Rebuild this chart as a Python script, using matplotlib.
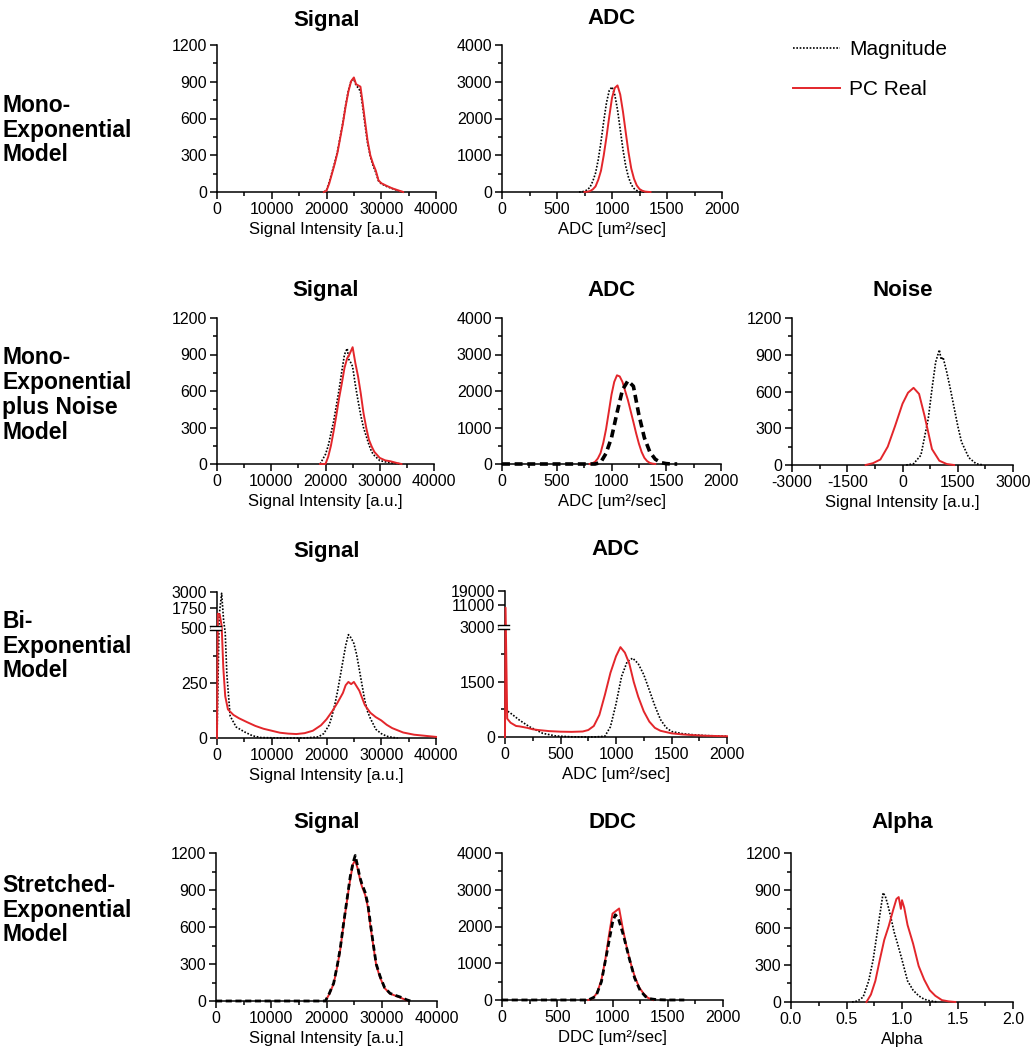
import numpy as np
import matplotlib
matplotlib.use('Agg')
import matplotlib.pyplot as plt
from matplotlib.ticker import MultipleLocator, FixedLocator, FormatStrFormatter
from matplotlib.lines import Line2D
from matplotlib.transforms import offset_copy

plt.rcParams['font.family'] = ['Liberation Sans', 'DejaVu Sans']
plt.rcParams['axes.unicode_minus'] = False

RED = '#e3262b'
W, H = 1031, 1050

# ---------------- Mono-exponential model ----------------
m1_sig_x = [19500, 20000, 20500, 21000, 21500, 22000, 22500, 23000, 23500, 24000, 24500, 25000, 25400,
            25800, 26200, 26600, 27000, 27500, 28000, 28500, 29000, 29500, 30000, 31000, 32000, 33000, 34000]
m1_sig_mag = [0, 15, 80, 160, 240, 330, 450, 570, 710, 830, 910, 920, 870, 850, 820, 700, 560, 400, 290,
              215, 160, 90, 68, 45, 28, 12, 0]
m1_sig_pc = [0, 10, 70, 150, 230, 320, 440, 560, 700, 820, 905, 935, 880, 870, 860, 730, 590, 420, 300,
             230, 175, 95, 72, 50, 30, 15, 0]

m1_adc_x_mag = [700, 725, 750, 775, 800, 825, 850, 875, 900, 925, 950, 975, 1000, 1025, 1050, 1075, 1100,
                1125, 1150, 1175, 1200, 1225, 1250, 1275, 1300]
m1_adc_mag = [0, 5, 20, 60, 130, 290, 510, 880, 1370, 1930, 2430, 2760, 2860, 2650, 2240, 1700, 1150, 700,
              400, 200, 95, 40, 15, 5, 0]
m1_adc_x_pc = [750, 775, 800, 825, 850, 875, 900, 925, 950, 975, 1000, 1025, 1050, 1075, 1100, 1125, 1150,
               1175, 1200, 1225, 1250, 1275, 1300, 1325, 1350]
m1_adc_pc = [0, 8, 25, 70, 150, 330, 580, 1000, 1500, 2050, 2560, 2830, 2900, 2650, 2180, 1620, 1080, 640,
             360, 180, 80, 35, 12, 4, 0]

# ---------------- Mono-exponential plus noise model ----------------
m2_sig_x = [19000, 20000, 20500, 21000, 21500, 22000, 22500, 23000, 23500, 24000, 24300, 24700, 25000,
            25500, 26000, 26500, 27000, 27500, 28000, 28500, 29000, 30000, 31000, 32000, 33000, 34000]
m2_sig_mag = [0, 80, 150, 250, 350, 480, 610, 760, 900, 950, 860, 830, 800, 650, 520, 400, 300, 230,
              160, 100, 70, 28, 18, 10, 5, 0]
m2_sig_pc = [0, 0, 60, 150, 270, 400, 540, 660, 790, 870, 890, 930, 960, 830, 720, 580, 420, 300, 200,
             145, 100, 50, 30, 22, 10, 0]

m2_adc_x_mag = [0, 200, 400, 600, 800, 850, 900, 950, 1000, 1050, 1100, 1150, 1200, 1250, 1300, 1350,
                1400, 1450, 1500, 1550, 1600]
m2_adc_mag = [0, 0, 0, 0, 0, 0, 40, 290, 720, 1400, 2030, 2280, 2130, 1350, 720, 330, 130, 40, 10, 0, 0]
m2_adc_x_pc = [800, 825, 850, 875, 900, 925, 950, 975, 1000, 1025, 1050, 1075, 1100, 1125, 1150, 1175,
               1200, 1225, 1250, 1275, 1300, 1325, 1350, 1375, 1400]
m2_adc_pc = [0, 20, 60, 150, 300, 580, 950, 1420, 1900, 2250, 2430, 2400, 2250, 2000, 1750, 1450, 1150,
             840, 560, 330, 170, 80, 30, 10, 0]

m2_noise_x_mag = [100, 300, 500, 700, 800, 900, 1000, 1050, 1100, 1200, 1300, 1400, 1500, 1600, 1800,
                  2000, 2200]
m2_noise_mag = [0, 10, 80, 380, 620, 840, 940, 860, 880, 760, 620, 470, 320, 190, 60, 10, 0]
m2_noise_x_pc = [-1000, -800, -600, -400, -200, 0, 150, 300, 450, 600, 800, 1000, 1200, 1400]
m2_noise_pc = [0, 15, 45, 150, 320, 500, 590, 630, 580, 400, 130, 35, 8, 0]

# ---------------- Bi-exponential model ----------------
b_sig_x_mag = [0, 400, 850, 1200, 1500, 1800, 2400, 3500, 5000, 6500, 8000, 12000, 16000, 18500, 19500,
               20500, 21000, 21500, 22000, 22500, 23000, 23500, 24000, 24500, 25000, 25500, 26000, 26500,
               27000, 27500, 28000, 29000, 30000, 31000, 32000, 33000]
b_sig_mag = [0, 1300, 2900, 1000, 480, 290, 100, 50, 28, 10, 2, 0, 0, 5, 20, 60, 100, 150, 210, 280, 350,
             420, 470, 455, 430, 380, 310, 240, 170, 120, 90, 40, 20, 8, 3, 0]
b_sig_x_pc = [0, 150, 500, 850, 1150, 1500, 2000, 3000, 4000, 5500, 7000, 8500, 10000, 11500, 13000,
              14500, 16000, 17500, 19000, 20000, 21000, 22000, 23000, 23500, 24000, 24500, 25000, 25500,
              26000, 27000, 28000, 29000, 30000, 31000, 32000, 33000, 34000, 36000, 38000, 40000]
b_sig_pc = [0, 1400, 1350, 640, 320, 190, 130, 105, 90, 72, 55, 42, 33, 24, 20, 18, 22, 33, 58, 85, 120,
            160, 205, 240, 255, 245, 255, 235, 215, 150, 115, 95, 80, 60, 45, 35, 25, 15, 10, 5]

b_adc_x_mag = [0, 50, 130, 220, 340, 460, 600, 800, 900, 950, 1000, 1050, 1100, 1150, 1200, 1250, 1300,
               1350, 1400, 1450, 1500, 1600, 1700, 1800, 2000]
b_adc_mag = [750, 650, 460, 280, 100, 27, 5, 0, 20, 280, 900, 1650, 2050, 2150, 2000, 1700, 1280, 850,
             480, 260, 150, 90, 60, 40, 20]
b_adc_x_pc = [0, 5, 20, 50, 100, 130, 200, 250, 300, 400, 500, 600, 700, 750, 800, 850, 900, 950, 1000,
              1040, 1080, 1120, 1160, 1200, 1250, 1300, 1350, 1400, 1500, 1600, 1700, 1800, 2000]
b_adc_pc = [0, 10000, 500, 390, 300, 290, 250, 210, 190, 160, 145, 140, 150, 190, 300, 600, 1150, 1750,
            2200, 2450, 2300, 2000, 1500, 1100, 700, 420, 250, 170, 100, 70, 50, 35, 20]

# ---------------- Stretched-exponential model ----------------
s_sig_x_mag = [0, 5000, 10000, 15000, 19800, 20500, 21300, 22000, 22500, 23000, 23700, 24300, 24800,
               25200, 25600, 26000, 26400, 27000, 27500, 28000, 28500, 29000, 29700, 30500, 31500, 32500,
               33500, 34500, 35200]
s_sig_mag = [0, 0, 0, 0, 0, 60, 145, 300, 430, 600, 820, 1010, 1120, 1180, 1100, 1010, 950, 880, 780,
             610, 450, 300, 200, 110, 62, 45, 30, 10, 0]
s_sig_x_pc = [19800, 20500, 21300, 22000, 22500, 23000, 23700, 24300, 24800, 25200, 25600, 26000, 26400,
              27000, 27500, 28000, 28500, 29000, 29700, 30500, 31500, 32500, 33500, 34500]
s_sig_pc = [0, 55, 140, 290, 420, 590, 810, 990, 1110, 1140, 1080, 1000, 930, 860, 760, 590, 440, 290,
            190, 105, 60, 42, 25, 5]

s_ddc_x_mag = [0, 200, 400, 600, 780, 850, 900, 950, 1000, 1025, 1050, 1100, 1150, 1200, 1250, 1300,
               1350, 1400, 1500, 1650]
s_ddc_mag = [0, 0, 0, 0, 0, 100, 500, 1300, 2100, 2320, 2250, 1750, 1150, 600, 260, 90, 30, 10, 0, 0]
s_ddc_x_pc = [780, 820, 860, 900, 935, 970, 1000, 1030, 1060, 1090, 1120, 1160, 1200, 1240, 1280, 1320,
              1370]
s_ddc_pc = [0, 40, 190, 550, 1100, 1800, 2350, 2420, 2490, 2000, 1550, 1050, 650, 350, 180, 60, 0]

s_alpha_x_mag = [0.55, 0.6, 0.65, 0.7, 0.74, 0.78, 0.81, 0.83, 0.85, 0.87, 0.9, 0.93, 0.96, 1.0, 1.05,
                 1.1, 1.15, 1.2, 1.25, 1.32]
s_alpha_mag = [0, 8, 40, 170, 340, 580, 760, 880, 850, 790, 680, 560, 470, 340, 170, 95, 50, 22, 10, 0]
s_alpha_x_pc = [0.68, 0.72, 0.76, 0.8, 0.84, 0.88, 0.92, 0.95, 0.97, 0.99, 1.0, 1.02, 1.05, 1.1, 1.15,
                1.2, 1.25, 1.3, 1.36, 1.42, 1.48]
s_alpha_pc = [0, 60, 170, 340, 500, 610, 740, 830, 845, 750, 820, 760, 620, 470, 290, 180, 95, 50, 15, 5, 0]

row_labels = ['Mono-\nExponential\nModel', 'Mono-\nExponential\nplus Noise\nModel',
              'Bi-\nExponential\nModel', 'Stretched-\nExponential\nModel']
row_centers = [130, 395, 646, 910]

SIG_LABEL = 'Signal Intensity [a.u.]'
ADC_LABEL = 'ADC [um\u00b2/sec]'
DDC_LABEL = 'DDC [um\u00b2/sec]'

fig = plt.figure(figsize=(W / 100, H / 100), dpi=100)


def make_ax(l, t, r, b):
    return fig.add_axes([l / W, 1 - b / H, (r - l) / W, (b - t) / H])


def style(ax, title, pad, xlim, xstep, xlabel, ylim=None, ystep=None):
    ax.set_xlim(xlim)
    ax.xaxis.set_major_locator(MultipleLocator(xstep))
    ax.xaxis.set_minor_locator(MultipleLocator(xstep / 2))
    if ylim is not None:
        ax.set_ylim(ylim)
        ax.yaxis.set_major_locator(MultipleLocator(ystep))
        ax.yaxis.set_minor_locator(MultipleLocator(ystep / 2))
    for s in ['top', 'right']:
        ax.spines[s].set_visible(False)
    for s in ['left', 'bottom']:
        ax.spines[s].set_linewidth(1.1)
    ax.tick_params(which='major', length=5, width=1.1, labelsize=11.5, pad=2)
    ax.tick_params(which='minor', length=3, width=1.1)
    ax.set_xlabel(xlabel, fontsize=12, labelpad=4)
    ax.set_title(title, fontsize=16, fontweight='bold', pad=pad)


def dotted(ax, x, y):
    ax.plot(x, y, color='black', lw=1.2, ls=(0, (1, 1)), clip_on=False, zorder=3)


def dashed(ax, x, y, lw=2.2):
    ax.plot(x, y, color='black', lw=lw, ls=(0, (2.2, 1.3)), clip_on=False, zorder=4)


def solid(ax, x, y):
    ax.plot(x, y, color=RED, lw=1.4, clip_on=False, zorder=3.5)


def broken_scale(ax, nodes, disp):
    ax.set_yscale('function', functions=(lambda v: np.interp(v, nodes, disp),
                                         lambda v: np.interp(v, disp, nodes)))


def break_mark(ax, brk):
    trans = ax.get_yaxis_transform()
    ax.plot([-0.03, 0.02], [brk, brk], transform=trans, color='white', lw=3.5,
            clip_on=False, zorder=6, solid_capstyle='butt')
    for dy in (-1.6, 1.6):
        ax.plot([-0.03, 0.02], [brk, brk], transform=offset_copy(trans, fig=fig, y=dy, units='points'),
                color='black', lw=1.0, clip_on=False, zorder=7)


# ---- row 1 ----
ax = make_ax(217, 45, 436, 192)
dotted(ax, m1_sig_x, m1_sig_mag)
solid(ax, m1_sig_x, m1_sig_pc)
style(ax, 'Signal', 14, (0, 40000), 10000, SIG_LABEL, (0, 1200), 300)

ax = make_ax(502, 45, 722, 192)
dotted(ax, m1_adc_x_mag, m1_adc_mag)
solid(ax, m1_adc_x_pc, m1_adc_pc)
style(ax, 'ADC', 15, (0, 2000), 500, ADC_LABEL, (0, 4000), 1000)

# legend
handles = [Line2D([], [], color='black', lw=1.2, ls=(0, (1, 1))),
           Line2D([], [], color=RED, lw=1.4)]
fig.legend(handles, ['Magnitude', 'PC Real'], loc='upper left',
           bbox_to_anchor=(793 / W, 1 - 40 / H), frameon=False, fontsize=15,
           handlelength=2.26, handletextpad=0.43, labelspacing=1.0,
           borderpad=0, borderaxespad=0)

# ---- row 2 ----
ax = make_ax(217, 318, 434, 464)
dotted(ax, m2_sig_x, m2_sig_mag)
solid(ax, m2_sig_x, m2_sig_pc)
style(ax, 'Signal', 16, (0, 40000), 10000, SIG_LABEL, (0, 1200), 300)

ax = make_ax(502, 318, 721, 464)
solid(ax, m2_adc_x_pc, m2_adc_pc)
dashed(ax, m2_adc_x_mag, m2_adc_mag, lw=2.6)
style(ax, 'ADC', 16, (0, 2000), 500, ADC_LABEL, (0, 4000), 1000)

ax = make_ax(792, 318, 1013, 465)
dotted(ax, m2_noise_x_mag, m2_noise_mag)
solid(ax, m2_noise_x_pc, m2_noise_pc)
style(ax, 'Noise', 16, (-3000, 3000), 1500, SIG_LABEL, (0, 1200), 300)

# ---- row 3 (broken y axes) ----
ax = make_ax(217, 592, 436, 738)
broken_scale(ax, [0, 500, 1750, 3000], [0, 500, 591, 664])
dotted(ax, b_sig_x_mag, b_sig_mag)
solid(ax, b_sig_x_pc, b_sig_pc)
style(ax, 'Signal', 25, (0, 40000), 10000, SIG_LABEL)
ax.set_ylim(0, 3000)
ax.yaxis.set_major_locator(FixedLocator([0, 250, 500, 1750, 3000]))
ax.yaxis.set_minor_locator(FixedLocator([125, 375]))
break_mark(ax, 500)

ax = make_ax(505, 591, 727, 737)
broken_scale(ax, [0, 3000, 11000, 19000], [0, 3000, 3600, 3980])
dotted(ax, b_adc_x_mag, b_adc_mag)
solid(ax, b_adc_x_pc, b_adc_pc)
style(ax, 'ADC', 26, (0, 2000), 500, ADC_LABEL)
ax.set_ylim(0, 19000)
ax.yaxis.set_major_locator(FixedLocator([0, 1500, 3000, 11000, 19000]))
ax.yaxis.set_minor_locator(FixedLocator([750, 2250]))
break_mark(ax, 3000)

# ---- row 4 ----
ax = make_ax(216, 853, 437, 1001)
solid(ax, s_sig_x_pc, s_sig_pc)
dashed(ax, s_sig_x_mag, s_sig_mag, lw=2.0)
style(ax, 'Signal', 18, (0, 40000), 10000, SIG_LABEL, (0, 1200), 300)

ax = make_ax(502, 853, 723, 1000)
solid(ax, s_ddc_x_pc, s_ddc_pc)
dashed(ax, s_ddc_x_mag, s_ddc_mag, lw=2.0)
style(ax, 'DDC', 18, (0, 2000), 500, DDC_LABEL, (0, 4000), 1000)

ax = make_ax(791, 853, 1013, 1002)
dotted(ax, s_alpha_x_mag, s_alpha_mag)
solid(ax, s_alpha_x_pc, s_alpha_pc)
style(ax, 'Alpha', 18, (0, 2), 0.5, 'Alpha', (0, 1200), 300)
ax.xaxis.set_major_formatter(FormatStrFormatter('%.1f'))

# row labels
for lab, yc in zip(row_labels, row_centers):
    fig.text(2 / W, 1 - yc / H, lab, ha='left', va='center', fontsize=16.5,
             fontweight='bold', linespacing=1.1)

fig.savefig('out.png', dpi=100)
